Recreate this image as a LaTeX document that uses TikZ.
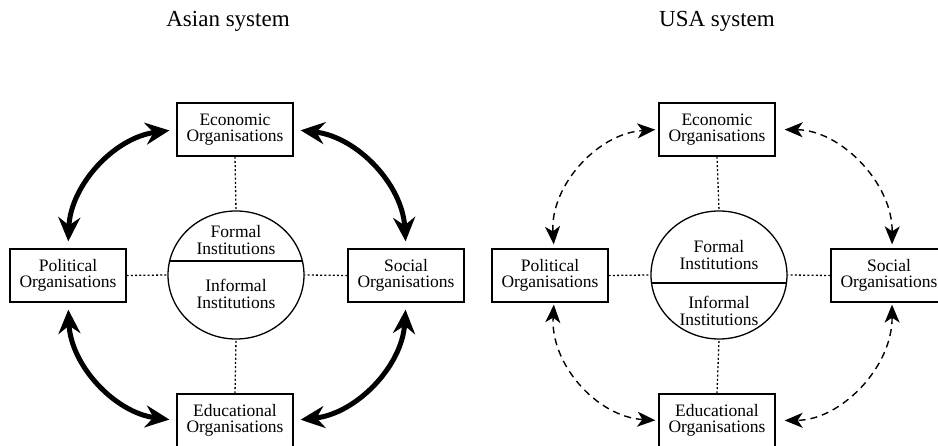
\documentclass[tikz,border=0pt]{standalone}
\usepackage{fontspec}
\setmainfont{Liberation Serif}
\usetikzlibrary{arrows.meta,shapes.geometric,calc}
\begin{document}
\begin{tikzpicture}[x=1pt,y=1pt,
  orgbox/.style={draw, line width=1.3pt, minimum width=116pt, minimum height=53pt,
    inner sep=0pt, align=center, font=\fontsize{17.5}{16.5}\selectfont},
  inst/.style={draw, line width=1.3pt, ellipse, minimum width=136pt, minimum height=128pt, inner sep=0pt},
  insttext/.style={align=center, inner sep=0pt, font=\fontsize{17.5}{16.5}\selectfont},
  title/.style={font=\fontsize{23}{26}\selectfont, inner sep=0pt},
  link/.style={line width=1.3pt, dash pattern=on 2pt off 2.2pt},
  strong/.style={line width=5pt, {Stealth[length=24pt,width=22pt,inset=8pt]}-{Stealth[length=24pt,width=22pt,inset=8pt]}},
  weak/.style={line width=1.4pt, dash pattern=on 7pt off 5pt, {Stealth[length=18pt,width=15pt,inset=5pt]}-{Stealth[length=18pt,width=15pt,inset=5pt]}}
]
\useasboundingbox (0,0) rectangle (938,446);
\clip (0,0) rectangle (938,446);

% ---------- Asian system ----------
\node[title] (tA) at (228,425) {Asian system};
\node[orgbox] (eA) at (235,316.5) {Economic\\Organisations};
\node[orgbox] (pA) at (68,170.5) {Political\\Organisations};
\node[orgbox] (sA) at (406,170.5) {Social\\Organisations};
\node[orgbox] (dA) at (235,25.5) {Educational\\Organisations};
\node[inst] (iA) at (236,171) {};
\coordinate (cAl) at ($(iA.center)+(-66.4,14)$);
\coordinate (cAr) at ($(iA.center)+(66.4,14)$);
\draw[line width=1.3pt] (cAl) -- (cAr);
\node[insttext] (fA) at (236,206) {Formal\\Institutions};
\node[insttext] (nA) at (236,152) {Informal\\Institutions};

\draw[link] (eA.south) -- (iA.north);
\draw[link] (dA.north) -- (iA.south);
\draw[link] (pA.east) -- (iA.west);
\draw[link] (sA.west) -- (iA.east);

\draw[strong, shorten <=7pt, shorten >=7pt] (pA.north) to[bend left=40] (eA.west);
\draw[strong, shorten <=7pt, shorten >=7pt] (eA.east) to[bend left=40] (sA.north);
\draw[strong, shorten <=7pt, shorten >=7pt] (sA.south) to[bend left=40] (dA.east);
\draw[strong, shorten <=7pt, shorten >=7pt] (dA.west) to[bend left=40] (pA.south);

% ---------- USA system ----------
\node[title] (tU) at (717,425) {USA system};
\node[orgbox] (eU) at (717,316.5) {Economic\\Organisations};
\node[orgbox] (pU) at (550,170.5) {Political\\Organisations};
\node[orgbox] (sU) at (889,170.5) {Social\\Organisations};
\node[orgbox] (dU) at (717,25.5) {Educational\\Organisations};
\node[inst] (iU) at (719,171) {};
\coordinate (cUl) at ($(iU.center)+(-67.5,-8)$);
\coordinate (cUr) at ($(iU.center)+(67.5,-8)$);
\draw[line width=1.3pt] (cUl) -- (cUr);
\node[insttext] (fU) at (719,191) {Formal\\Institutions};
\node[insttext] (nU) at (719,135) {Informal\\Institutions};

\draw[link] (eU.south) -- (iU.north);
\draw[link] (dU.north) -- (iU.south);
\draw[link] (pU.east) -- (iU.west);
\draw[link] (sU.west) -- (iU.east);

\draw[weak, shorten <=4pt, shorten >=3pt] ([xshift=4pt]pU.north) to[bend left=45] (eU.west);
\draw[weak, shorten <=9pt, shorten >=4pt] (eU.east) to[bend left=45] ([xshift=3pt]sU.north);
\draw[weak, shorten <=2pt, shorten >=9pt] ([xshift=3pt]sU.south) to[bend left=45] (dU.east);
\draw[weak, shorten <=3pt, shorten >=2pt] (dU.west) to[bend left=45] ([xshift=4pt]pU.south);
\end{tikzpicture}
\end{document}
